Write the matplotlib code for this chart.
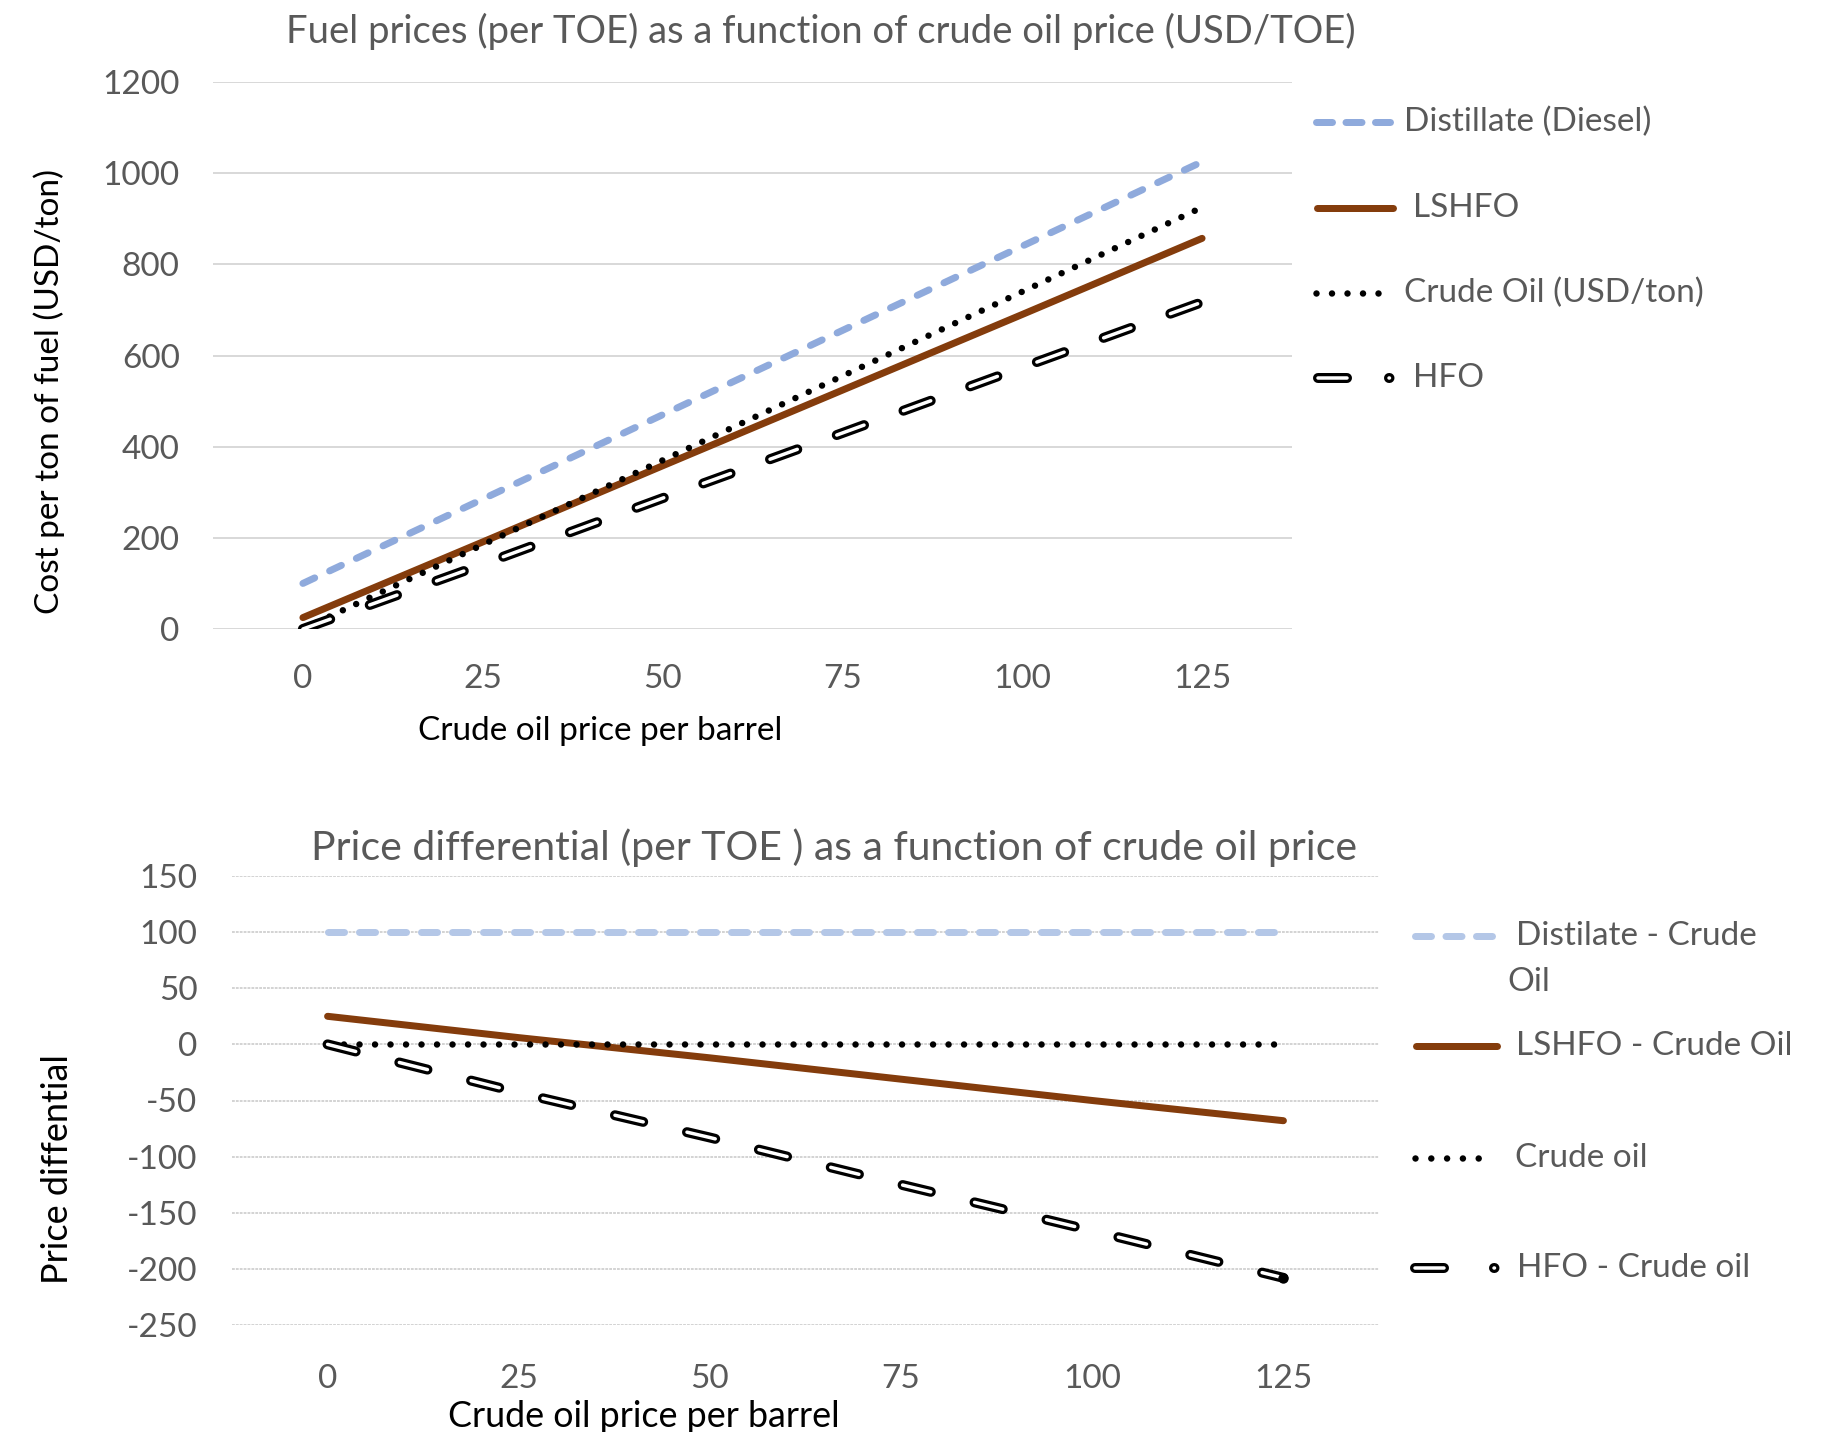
import matplotlib
matplotlib.use("Agg")
import matplotlib.pyplot as plt
import numpy as np

plt.rcParams['font.family'] = ['Lato', 'DejaVu Sans']
plt.rcParams['lines.scale_dashes'] = False
plt.rcParams['axes.unicode_minus'] = False

# ---- data -------------------------------------------------------------
price_per_barrel = [0, 25, 50, 75, 100, 125]
crude_usd_ton = [0, 185, 370, 555, 740, 925]
distillate = [100, 285, 470, 655, 840, 1025]
lshfo = [25, 191, 358, 524, 690, 857]
hfo = [0, 142, 287, 430, 574, 717]

top_yticks = [0, 200, 400, 600, 800, 1000, 1200]
bottom_yticks = [-250, -200, -150, -100, -50, 0, 50, 100, 150]
x_ticks = [0, 25, 50, 75, 100, 125]

top_labels = ["Distillate (Diesel)", "LSHFO", "Crude Oil (USD/ton)", "HFO"]
bottom_labels = ["Distilate - Crude", "LSHFO - Crude Oil", "Crude oil", "HFO - Crude oil"]

x = np.array(price_per_barrel, dtype=float)
crude = np.array(crude_usd_ton, dtype=float)
diff_distillate = np.array(distillate) - crude
diff_lshfo = np.array(lshfo) - crude
diff_crude = crude - crude
diff_hfo = np.array(hfo) - crude

# ---- figure geometry (pixels) ----------------------------------------
W, H, DPI = 1837, 1432, 100
PT = 72.0 / DPI  # points per pixel

GREY_TEXT = '#595959'
BLUE_TOP = '#8faadc'
BLUE_BOTTOM = '#b4c7e7'
BROWN = '#843c0c'


def box(left, top, right, bottom):
    return [left / W, 1 - bottom / H, (right - left) / W, (bottom - top) / H]


fig = plt.figure(figsize=(W / DPI, H / DPI), dpi=DPI)
ax1 = fig.add_axes(box(213, 82, 1292, 629))
ax2 = fig.add_axes(box(232, 876, 1379, 1325))


def dashed(ax, xs, ys, color, lw_px, on_px, off_px, **kw):
    ax.plot(xs, ys, color=color, lw=lw_px * PT,
            linestyle=(0, (on_px * PT, off_px * PT)),
            dash_capstyle='round', solid_capstyle='round', **kw)


def dotted(ax, xs, ys, lw_px, period_px, **kw):
    ax.plot(xs, ys, color='black', lw=lw_px * PT,
            linestyle=(0, (0.001, period_px * PT)),
            dash_capstyle='round', **kw)


def hollow_dashed(ax, xs, ys, pattern_px, **kw):
    pat = tuple(p * PT for p in pattern_px)
    ax.plot(xs, ys, color='black', lw=10 * PT, linestyle=(0, pat),
            dash_capstyle='round', **kw)
    ax.plot(xs, ys, color='white', lw=3.5 * PT, linestyle=(0, pat),
            dash_capstyle='round', **kw)


def solid(ax, xs, ys, color, lw_px, **kw):
    ax.plot(xs, ys, color=color, lw=lw_px * PT, solid_capstyle='round', **kw)


# ---- top chart: fuel prices -----------------------------------------
dashed(ax1, x, distillate, BLUE_TOP, 7, 13, 16.5, zorder=3)
solid(ax1, x, lshfo, BROWN, 7, zorder=4)
dotted(ax1, x, crude, 6.5, 14.7, zorder=5)
hollow_dashed(ax1, x, hfo, (29, 42), zorder=6)

ax1.set_xlim(-12.5, 137.5)
ax1.set_ylim(0, 1200)
ax1.set_yticks(top_yticks)
ax1.set_xticks(x_ticks)
ax1.grid(axis='y', color='#d9d9d9', lw=2 * PT)
ax1.tick_params(axis='y', length=0, pad=24, labelsize=24, labelcolor=GREY_TEXT)
ax1.tick_params(axis='x', length=0, pad=25, labelsize=24, labelcolor=GREY_TEXT)

# ---- bottom chart: price differentials -------------------------------
dashed(ax2, x, diff_distillate, BLUE_BOTTOM, 7, 16, 15, zorder=3)
solid(ax2, x, diff_lshfo, BROWN, 7, zorder=4)
dotted(ax2, x, diff_crude, 6.5, 15.5, zorder=5)
hollow_dashed(ax2, x, diff_hfo, (29, 45), zorder=6)
ax2.plot(x[-1:], diff_hfo[-1:], 'o', color='black', ms=9 * PT, zorder=7)

ax2.set_xlim(-12.5, 137.5)
ax2.set_ylim(-250, 150)
ax2.set_yticks(bottom_yticks)
ax2.set_xticks(x_ticks)
ax2.grid(axis='y', color='#d4d4d4', lw=2 * PT, linestyle=(0, (2.0, 0.8)))
ax2.tick_params(axis='y', length=0, pad=25, labelsize=24, labelcolor=GREY_TEXT)
ax2.tick_params(axis='x', length=0, pad=28, labelsize=24, labelcolor=GREY_TEXT)

for ax in (ax1, ax2):
    for s in ax.spines.values():
        s.set_visible(False)
    ax.set_axisbelow(True)

# ---- titles and axis labels ------------------------------------------
def ftext(px, py, s, **kw):
    fig.text(px / W, 1 - py / H, s, **kw)


ftext(821, 43, "Fuel prices (per TOE) as a function of crude oil price (USD/TOE)",
      ha='center', va='baseline', fontsize=27.5, color=GREY_TEXT)
ftext(834, 860, "Price differential (per TOE ) as a function of crude oil price",
      ha='center', va='baseline', fontsize=29.5, color=GREY_TEXT)
ftext(600, 740, "Crude oil price per barrel", ha='center', va='baseline',
      fontsize=24, color='black')
ftext(644, 1427, "Crude oil price per barrel", ha='center', va='baseline',
      fontsize=25.8, color='black')
ftext(49, 391, "Cost per ton of fuel (USD/ton)", ha='center', va='center',
      rotation=90, fontsize=24, color='black')
ftext(57, 1169, "Price diffential", ha='center', va='center',
      rotation=90, fontsize=26, color='black')

# ---- legends (drawn on a pixel-space overlay) ------------------------
lg = fig.add_axes([0, 0, 1, 1], zorder=10)
lg.set_xlim(0, W)
lg.set_ylim(H, 0)
lg.axis('off')
lg.patch.set_alpha(0)

# top legend
dashed(lg, [1316, 1390], [122, 122], BLUE_TOP, 7, 16, 13.5)
solid(lg, [1317, 1393], [208, 208], BROWN, 7)
dotted(lg, [1316, 1392], [293, 293], 6.5, 15.5)
hollow_dashed(lg, [1318, 1395], [378, 378], (29, 42, 0.5, 40))
lg.text(1404, 122, top_labels[0], va='center', ha='left', fontsize=24, color=GREY_TEXT)
lg.text(1413, 208, top_labels[1], va='center', ha='left', fontsize=24, color=GREY_TEXT)
lg.text(1404, 293, top_labels[2], va='center', ha='left', fontsize=24, color=GREY_TEXT)
lg.text(1413, 378, top_labels[3], va='center', ha='left', fontsize=24, color=GREY_TEXT)

# bottom legend
dashed(lg, [1415, 1492], [936, 936], BLUE_BOTTOM, 7, 16, 14.5)
solid(lg, [1416, 1497], [1046, 1046], BROWN, 7)
dotted(lg, [1415, 1494], [1158, 1158], 6.5, 15.8)
hollow_dashed(lg, [1415, 1499], [1268, 1268], (29, 50, 0.5, 40))
lg.text(1516, 936, bottom_labels[0], va='center', ha='left', fontsize=24, color=GREY_TEXT)
lg.text(1507, 982, "Oil", va='center', ha='left', fontsize=24, color=GREY_TEXT)
lg.text(1516, 1046, bottom_labels[1], va='center', ha='left', fontsize=24, color=GREY_TEXT)
lg.text(1515, 1158, bottom_labels[2], va='center', ha='left', fontsize=24, color=GREY_TEXT)
lg.text(1517, 1268, bottom_labels[3], va='center', ha='left', fontsize=24, color=GREY_TEXT)

fig.savefig("out.png", dpi=DPI)
